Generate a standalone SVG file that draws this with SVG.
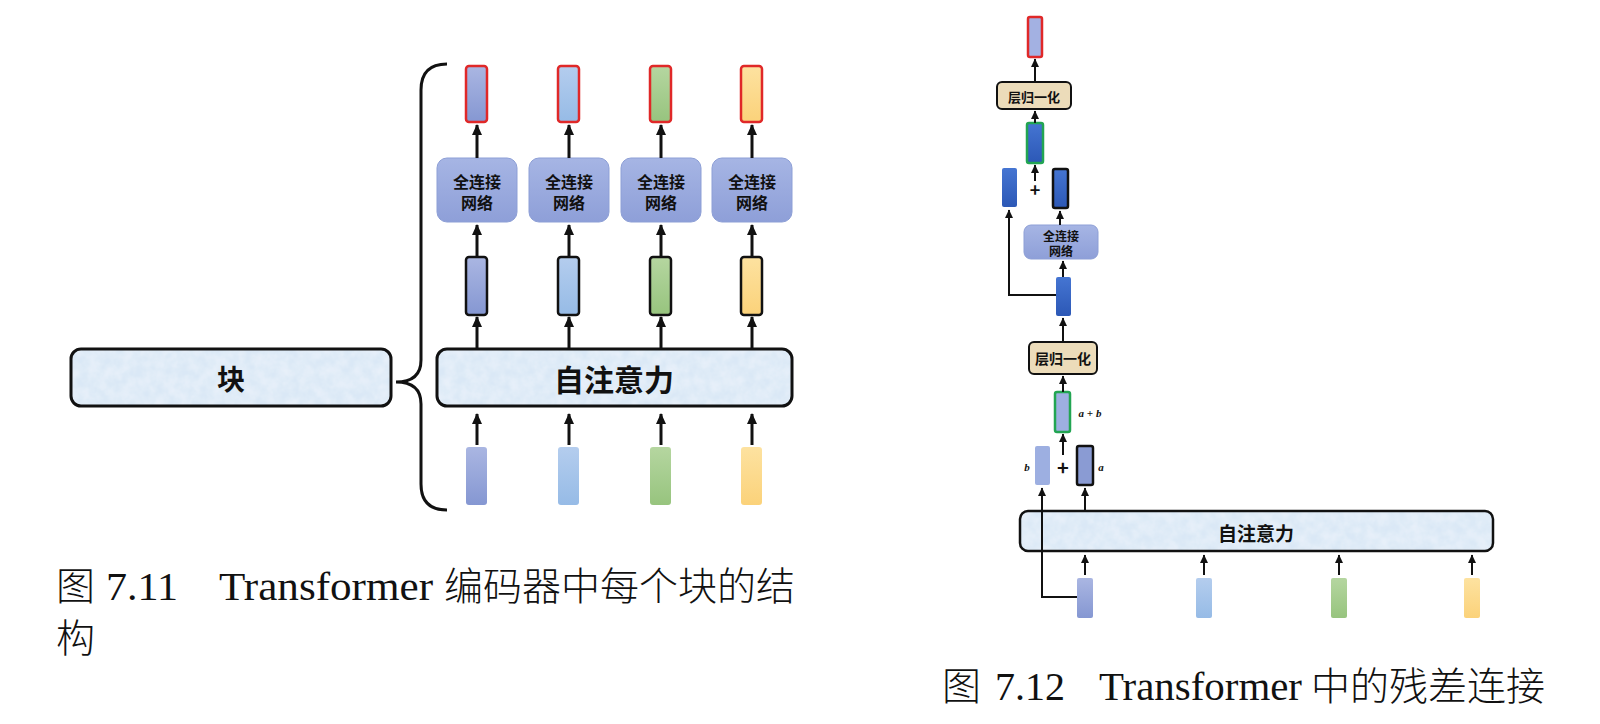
<svg xmlns="http://www.w3.org/2000/svg" width="1600" height="724" viewBox="0 0 1600 724">
<style>
.big{fill:#dae8f6;stroke:#111;stroke-width:3}
.bigR{fill:#dae8f6;stroke:#111;stroke-width:2.5}
.tex{fill:#dae8f6;filter:url(#tex)}
.edge{fill:none;stroke:#111;stroke-width:3}
.edgeR{fill:none;stroke:#111;stroke-width:2.5}
.fc{fill:url(#gFC);stroke:#8d9fd6;stroke-width:1}
.ln{fill:#ecdcba;stroke:#111;stroke-width:2}
.blk{stroke:#111;stroke-width:2.5}
.red{stroke:#e02828;stroke-width:2.5}
.grn{stroke:#22a552;stroke-width:2.5}
.ar{stroke:#111;stroke-width:3;fill:none;marker-end:url(#ah)}
.ar2{stroke:#111;stroke-width:2;fill:none;marker-end:url(#ah2)}
.t{font-family:"Noto Sans CJK SC","Noto Sans CJK JP",sans-serif;font-weight:bold;fill:#111;text-anchor:middle;dominant-baseline:central}
.cap{font-family:"Liberation Serif","Noto Sans CJK SC",serif;font-size:40px;fill:#111}
.capc{font-family:"Noto Sans CJK SC",serif;font-size:39px;font-weight:300;fill:#111}
.lab{font-family:"Liberation Serif",serif;font-style:italic;font-weight:bold;font-size:11px;fill:#111;text-anchor:middle;dominant-baseline:central}
</style>
<defs>
<marker id="ah" markerUnits="userSpaceOnUse" markerWidth="12" markerHeight="12" viewBox="0 0 12 12" refX="10" refY="6" orient="auto"><path d="M0,1 L11,6 L0,11 Z" fill="#111"/></marker>
<marker id="ah2" markerUnits="userSpaceOnUse" markerWidth="9" markerHeight="9" viewBox="0 0 9 9" refX="8" refY="4.5" orient="auto"><path d="M0,0.5 L8.5,4.5 L0,8.5 Z" fill="#111"/></marker>
<linearGradient id="gP" x1="0" y1="0" x2="0" y2="1"><stop offset="0" stop-color="#aab6e2"/><stop offset="1" stop-color="#8597d2"/></linearGradient>
<linearGradient id="gB" x1="0" y1="0" x2="0" y2="1"><stop offset="0" stop-color="#b4cdee"/><stop offset="1" stop-color="#96bbe6"/></linearGradient>
<linearGradient id="gG" x1="0" y1="0" x2="0" y2="1"><stop offset="0" stop-color="#b5d6a0"/><stop offset="1" stop-color="#97c47e"/></linearGradient>
<linearGradient id="gY" x1="0" y1="0" x2="0" y2="1"><stop offset="0" stop-color="#fde2a0"/><stop offset="1" stop-color="#fbd27a"/></linearGradient>
<linearGradient id="gD" x1="0" y1="0" x2="0" y2="1"><stop offset="0" stop-color="#4575d2"/><stop offset="1" stop-color="#2c58b6"/></linearGradient>
<linearGradient id="gFC" x1="0" y1="0" x2="0" y2="1"><stop offset="0" stop-color="#a6b5e4"/><stop offset="1" stop-color="#8e9fd8"/></linearGradient>
<filter id="tex" x="0" y="0" width="1" height="1">
<feTurbulence type="fractalNoise" baseFrequency="0.09" numOctaves="3" seed="3" result="n"/>
<feColorMatrix in="n" type="matrix" values="0 0 0 0 0.80  0 0 0 0 0.87  0 0 0 0 0.95  0 0 0 -1.6 1.25" result="c"/>
<feComposite in="c" in2="SourceGraphic" operator="in" result="m"/>
<feMerge><feMergeNode in="SourceGraphic"/><feMergeNode in="m"/></feMerge>
</filter>
</defs>

<!-- ========== Figure 7.11 ========== -->
<g id="brace"><path d="M447,64 Q421,64 421,90 L421,360 Q421,382 396,382 Q421,382 421,404 L421,484 Q421,510 447,510" fill="none" stroke="#111" stroke-width="3"/></g>

<g id="block"><rect class="tex" x="71" y="349" width="320" height="57" rx="10"/><rect class="edge" x="71" y="349" width="320" height="57" rx="10"/><text class="t" x="231" y="378" font-size="28">块</text></g>
<g id="attn1"><rect class="tex" x="437" y="349" width="355" height="57" rx="10"/><rect class="edge" x="437" y="349" width="355" height="57" rx="10"/><text class="t" x="614" y="378" font-size="30">自注意力</text></g>

<g id="in1"><rect x="466" y="447" width="21" height="58" rx="3" fill="url(#gP)"/></g>
<g id="in2"><rect x="558" y="447" width="21" height="58" rx="3" fill="url(#gB)"/></g>
<g id="in3"><rect x="650" y="447" width="21" height="58" rx="3" fill="url(#gG)"/></g>
<g id="in4"><rect x="741" y="447" width="21" height="58" rx="3" fill="url(#gY)"/></g>

<g id="mid1"><rect class="blk" x="466" y="257" width="21" height="58" rx="3" fill="url(#gP)"/></g>
<g id="mid2"><rect class="blk" x="558" y="257" width="21" height="58" rx="3" fill="url(#gB)"/></g>
<g id="mid3"><rect class="blk" x="650" y="257" width="21" height="58" rx="3" fill="url(#gG)"/></g>
<g id="mid4"><rect class="blk" x="741" y="257" width="21" height="58" rx="3" fill="url(#gY)"/></g>

<g id="fc1"><rect class="fc" x="437" y="158" width="80" height="64" rx="10"/><text class="t" x="477" y="181" font-size="16">全连接</text><text class="t" x="477" y="202" font-size="16">网络</text></g>
<g id="fc2"><rect class="fc" x="529" y="158" width="80" height="64" rx="10"/><text class="t" x="569" y="181" font-size="16">全连接</text><text class="t" x="569" y="202" font-size="16">网络</text></g>
<g id="fc3"><rect class="fc" x="621" y="158" width="80" height="64" rx="10"/><text class="t" x="661" y="181" font-size="16">全连接</text><text class="t" x="661" y="202" font-size="16">网络</text></g>
<g id="fc4"><rect class="fc" x="712" y="158" width="80" height="64" rx="10"/><text class="t" x="752" y="181" font-size="16">全连接</text><text class="t" x="752" y="202" font-size="16">网络</text></g>

<g id="out1"><rect class="red" x="466" y="66" width="21" height="56" rx="3" fill="url(#gP)"/></g>
<g id="out2"><rect class="red" x="558" y="66" width="21" height="56" rx="3" fill="url(#gB)"/></g>
<g id="out3"><rect class="red" x="650" y="66" width="21" height="56" rx="3" fill="url(#gG)"/></g>
<g id="out4"><rect class="red" x="741" y="66" width="21" height="56" rx="3" fill="url(#gY)"/></g>

<!-- ========== Figure 7.12 ========== -->
<g id="attn2"><rect class="tex" x="1020" y="511" width="473" height="40" rx="8"/><rect class="edgeR" x="1020" y="511" width="473" height="40" rx="8"/><text class="t" x="1256" y="532" font-size="19">自注意力</text></g>

<g id="rin1"><rect x="1077" y="578" width="16" height="40" rx="2" fill="url(#gP)"/></g>
<g id="rin2"><rect x="1196" y="578" width="16" height="40" rx="2" fill="url(#gB)"/></g>
<g id="rin3"><rect x="1331" y="578" width="16" height="40" rx="2" fill="url(#gG)"/></g>
<g id="rin4"><rect x="1464" y="578" width="16" height="40" rx="2" fill="url(#gY)"/></g>

<g id="vb"><rect x="1035" y="446" width="15" height="39" rx="2" fill="#9dafe1"/><text class="lab" x="1027" y="467">b</text></g>
<g id="va"><rect class="blk" x="1077" y="446" width="16" height="39" rx="2" fill="#8a9bd3"/><text class="lab" x="1101" y="467">a</text></g>
<g id="plus1"><text class="t" x="1063" y="466" font-size="20">+</text></g>
<g id="vab"><rect class="grn" x="1055" y="392" width="15" height="40" rx="2" fill="#9dafe1"/><text class="lab" x="1090" y="413">a + b</text></g>
<g id="ln1"><rect class="ln" x="1029" y="342" width="68" height="32" rx="5"/><text class="t" x="1063" y="358" font-size="14">层归一化</text></g>
<g id="h1"><rect x="1056" y="277" width="15" height="39" rx="2" fill="url(#gD)"/></g>
<g id="fcr"><rect class="fc" x="1024" y="225" width="74" height="34" rx="7"/><text class="t" x="1061" y="235" font-size="12">全连接</text><text class="t" x="1061" y="250" font-size="12">网络</text></g>
<g id="vb2"><rect x="1002" y="168" width="15" height="39" rx="2" fill="url(#gD)"/></g>
<g id="vf"><rect class="blk" x="1053" y="169" width="15" height="39" rx="2" fill="url(#gD)"/></g>
<g id="plus2"><text class="t" x="1035" y="189" font-size="18">+</text></g>
<g id="vab2"><rect class="grn" x="1027" y="123" width="16" height="40" rx="2" fill="url(#gD)"/></g>
<g id="ln2"><rect class="ln" x="997" y="82" width="74" height="27" rx="5"/><text class="t" x="1034" y="96" font-size="13">层归一化</text></g>
<g id="rout"><rect class="red" x="1028" y="17" width="14" height="40" rx="2" fill="#a3b1e2"/></g>

<!-- connectors -->
<g id="connectors">
<line class="ar" x1="477" y1="445" x2="477" y2="414"/>
<line class="ar" x1="569" y1="445" x2="569" y2="414"/>
<line class="ar" x1="661" y1="445" x2="661" y2="414"/>
<line class="ar" x1="752" y1="445" x2="752" y2="414"/>
<line class="ar" x1="477" y1="349" x2="477" y2="317"/>
<line class="ar" x1="569" y1="349" x2="569" y2="317"/>
<line class="ar" x1="661" y1="349" x2="661" y2="317"/>
<line class="ar" x1="752" y1="349" x2="752" y2="317"/>
<line class="ar" x1="477" y1="256" x2="477" y2="225"/>
<line class="ar" x1="569" y1="256" x2="569" y2="225"/>
<line class="ar" x1="661" y1="256" x2="661" y2="225"/>
<line class="ar" x1="752" y1="256" x2="752" y2="225"/>
<line class="ar" x1="477" y1="158" x2="477" y2="125"/>
<line class="ar" x1="569" y1="158" x2="569" y2="125"/>
<line class="ar" x1="661" y1="158" x2="661" y2="125"/>
<line class="ar" x1="752" y1="158" x2="752" y2="125"/>

<line class="ar2" x1="1085" y1="575" x2="1085" y2="555"/>
<line class="ar2" x1="1204" y1="575" x2="1204" y2="555"/>
<line class="ar2" x1="1339" y1="575" x2="1339" y2="555"/>
<line class="ar2" x1="1472" y1="575" x2="1472" y2="555"/>
<polyline class="ar2" points="1077,597 1042,597 1042,488"/>
<line class="ar2" x1="1085" y1="511" x2="1085" y2="488"/>
<line class="ar2" x1="1063" y1="455" x2="1063" y2="434"/>
<line class="ar2" x1="1063" y1="392" x2="1063" y2="376"/>
<line class="ar2" x1="1063" y1="342" x2="1063" y2="318"/>
<polyline class="ar2" points="1056,295 1009,295 1009,210"/>
<line class="ar2" x1="1063" y1="277" x2="1063" y2="261"/>
<line class="ar2" x1="1060" y1="225" x2="1060" y2="211"/>
<line class="ar2" x1="1035" y1="181" x2="1035" y2="165"/>
<line class="ar2" x1="1035" y1="123" x2="1035" y2="111"/>
<line class="ar2" x1="1035" y1="82" x2="1035" y2="59"/>
</g>

<!-- captions -->
<g id="caption1">
<text class="capc" x="56" y="600">图</text>
<text class="cap" x="106" y="600" textLength="72" lengthAdjust="spacingAndGlyphs">7.11</text>
<text class="cap" x="219" y="600" textLength="214" lengthAdjust="spacingAndGlyphs">Transformer</text>
<text class="capc" x="444" y="600">编码器中每个块的结</text>
<text class="capc" x="56" y="652">构</text>
</g>
<g id="caption2">
<text class="capc" x="942" y="700">图</text>
<text class="cap" x="995" y="700">7.12</text>
<text class="cap" x="1099" y="700" textLength="203" lengthAdjust="spacingAndGlyphs">Transformer</text>
<text class="capc" x="1311" y="700">中的残差连接</text>
</g>
</svg>
